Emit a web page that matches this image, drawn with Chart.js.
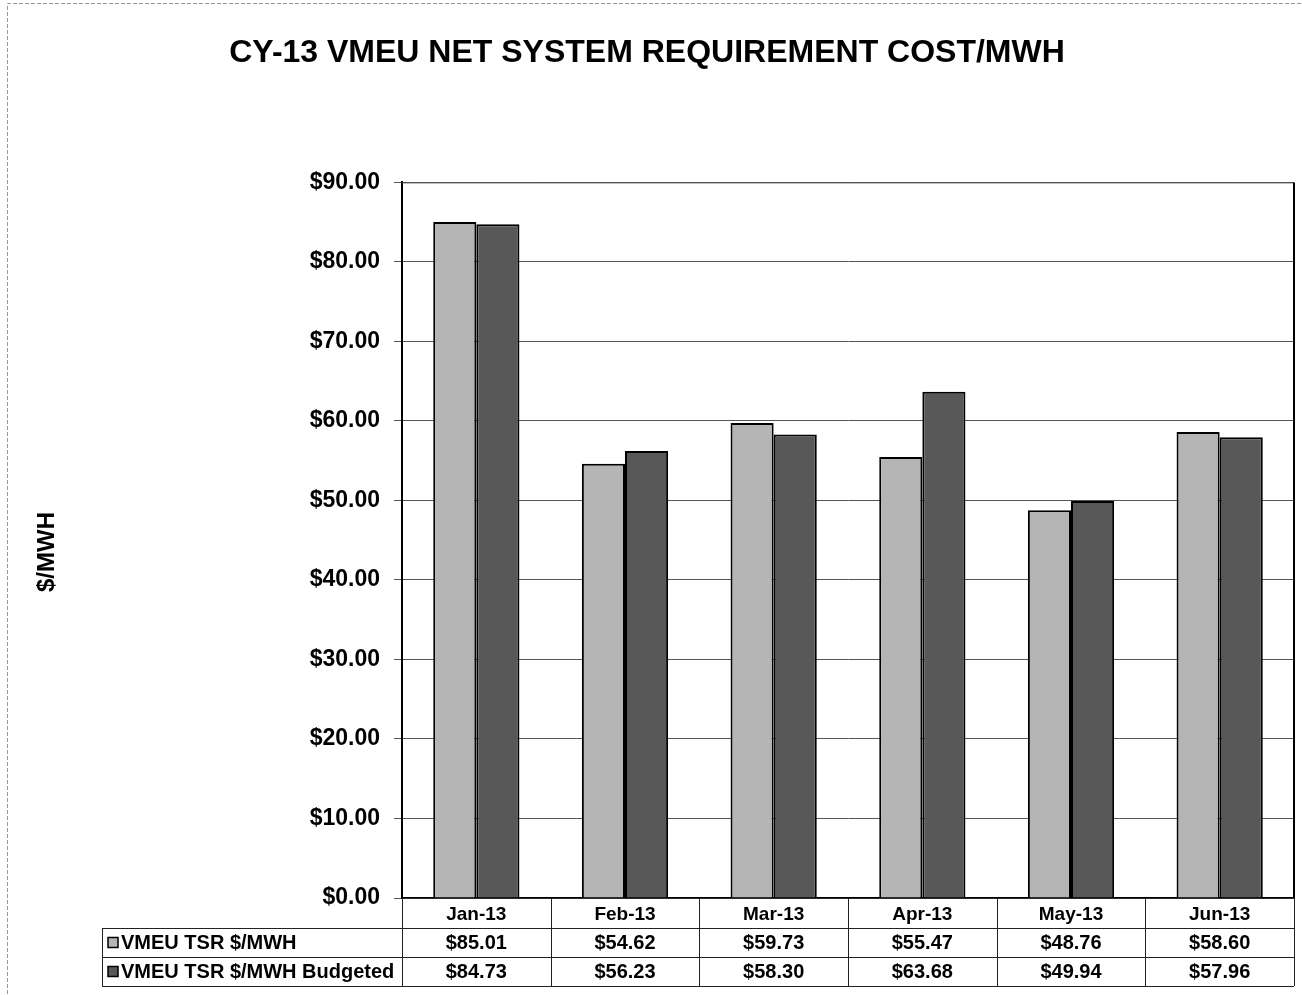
<!DOCTYPE html>
<html>
<head>
<meta charset="utf-8">
<script src="https://cdn.jsdelivr.net/npm/chart.js@4.4.1/dist/chart.umd.min.js"></script>
<style>
html,body{margin:0;padding:0;background:#fff;}
canvas{display:block;}
</style>
</head>
<body>
<canvas id="c" width="1302" height="995"></canvas>
<script>
const categories = ['Jan-13','Feb-13','Mar-13','Apr-13','May-13','Jun-13'];
const seriesNames = ['VMEU TSR $/MWH','VMEU TSR $/MWH Budgeted'];
const tsr = [85.01,54.62,59.73,55.47,48.76,58.60];
const budgeted = [84.73,56.23,58.30,63.68,49.94,57.96];
const yMin = 0, yMax = 90, yStep = 10;
const titleText = 'CY-13 VMEU NET SYSTEM REQUIREMENT COST/MWH';
const yTitle = '$/MWH';

const FONT = 'Arial, "Liberation Sans", sans-serif';
const colors = ['#b5b5b5', '#585858'];

const money = v => '$' + v.toFixed(2);

const tablePlugin = {
  id: 'tablePlugin',
  afterDraw(chart) {
    const ctx = chart.ctx;
    const x = chart.scales.x;
    const area = chart.chartArea;
    const rowH = 29;
    const top = area.bottom;
    const r1 = top + 30, r2 = r1 + rowH, r3 = r2 + rowH;
    const tableLeft = 102;
    const n = categories.length;
    const colW = (area.right - area.left) / n;
    ctx.save();
    // outer frame
    ctx.strokeStyle = '#999';
    ctx.lineWidth = 1;
    ctx.setLineDash([4, 2]);
    ctx.beginPath();
    ctx.moveTo(7.5, 994); ctx.lineTo(7.5, 3.5); ctx.lineTo(1301, 3.5);
    ctx.stroke();
    ctx.setLineDash([]);
    // table lines
    ctx.strokeStyle = '#222';
    ctx.lineWidth = 1;
    ctx.beginPath();
    [r1, r2, r3].forEach(y => { ctx.moveTo(tableLeft, y + 0.5); ctx.lineTo(area.right, y + 0.5); });
    ctx.moveTo(tableLeft + 0.5, r1); ctx.lineTo(tableLeft + 0.5, r3);
    for (let i = 0; i <= n; i++) {
      const px = Math.round(x.getPixelForValue(i) - colW / 2) + 0.5;
      ctx.moveTo(px, top); ctx.lineTo(px, r3);
    }
    ctx.stroke();
    // legend keys and labels
    ctx.font = 'bold 20px ' + FONT;
    ctx.textBaseline = 'middle';
    [r1, r2].forEach((ry, k) => {
      const cy = ry + rowH / 2;
      ctx.fillStyle = colors[k];
      ctx.fillRect(108, cy - 5, 10, 10);
      ctx.strokeStyle = '#000';
      ctx.lineWidth = 1.5;
      ctx.strokeRect(108, cy - 5, 10, 10);
      ctx.fillStyle = '#000';
      ctx.textAlign = 'left';
      ctx.fillText(seriesNames[k], 121, cy + 1);
    });
    // values
    const data = [tsr, budgeted];
    ctx.textAlign = 'center';
    data.forEach((arr, k) => {
      const cy = [r1, r2][k] + rowH / 2 + 1;
      arr.forEach((v, i) => {
        ctx.fillText(money(v), x.getPixelForValue(i), cy);
      });
    });
    // y axis title
    ctx.save();
    ctx.translate(47, 552);
    ctx.rotate(-Math.PI / 2);
    ctx.font = 'bold 24px ' + FONT;
    ctx.textAlign = 'center';
    ctx.textBaseline = 'middle';
    ctx.fillText(yTitle, 0, 0);
    ctx.restore();
    // plot frame top/right
    ctx.strokeStyle = '#555';
    ctx.lineWidth = 1;
    ctx.beginPath();
    ctx.moveTo(area.left, area.top + 0.5); ctx.lineTo(area.right, area.top + 0.5);
    ctx.stroke();
    ctx.strokeStyle = '#000';
    ctx.lineWidth = 2;
    ctx.beginPath();
    ctx.moveTo(area.right, area.top); ctx.lineTo(area.right, area.bottom);
    ctx.stroke();
    ctx.restore();
  }
};

new Chart(document.getElementById('c'), {
  type: 'bar',
  data: {
    labels: categories,
    datasets: [
      { label: seriesNames[0], data: tsr, backgroundColor: colors[0], borderColor: '#000', borderWidth: 2 },
      { label: seriesNames[1], data: budgeted, backgroundColor: colors[1], borderColor: '#000', borderWidth: 2 }
    ]
  },
  options: {
    responsive: false,
    animation: false,
    devicePixelRatio: 1,
    categoryPercentage: 0.58,
    barPercentage: 1.0,
    layout: { padding: { left: 0, right: 8, top: 0, bottom: 0 } },
    plugins: {
      legend: { display: false },
      tooltip: { enabled: false },
      title: {
        display: true,
        text: titleText,
        color: '#000',
        font: { family: FONT, size: 32, weight: 'bold' },
        padding: { top: 34, bottom: 110 }
      }
    },
    scales: {
      x: {
        grid: { display: false },
        border: { display: true, color: '#000', width: 1.5 },
        ticks: { color: '#000', font: { family: FONT, size: 19, weight: 'bold' }, padding: -3, maxRotation: 0 },
        afterFit(s) { s.height = 97; }
      },
      y: {
        min: yMin, max: yMax,
        ticks: { stepSize: yStep, color: '#000', font: { family: FONT, size: 23, weight: 'bold' }, padding: 14, callback: v => money(v) },
        grid: { color: '#555', lineWidth: 1, tickLength: 8, drawTicks: true },
        border: { display: true, color: '#000', width: 2 },
        afterFit(s) { s.width = 402; }
      }
    }
  },
  plugins: [tablePlugin]
});
</script>
</body>
</html>
